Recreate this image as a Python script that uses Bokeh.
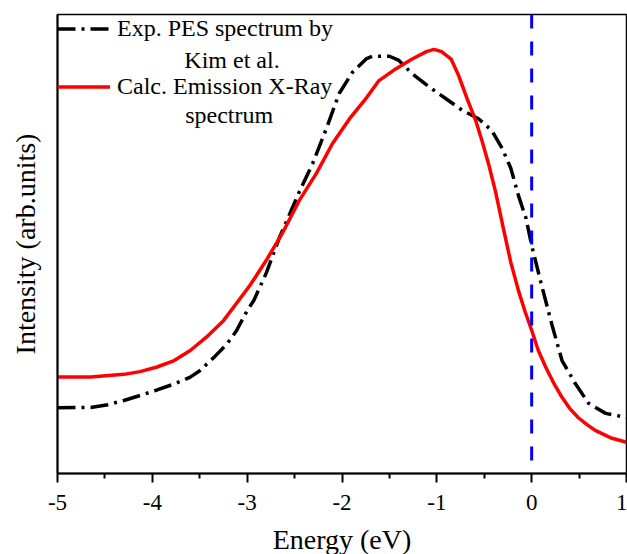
from bokeh.plotting import figure
from bokeh.models import Span, Legend, LegendItem, Label, FixedTicker, Range1d
from bokeh.embed import file_html
from bokeh.resources import INLINE

# Experimental PES spectrum (Kim et al.)
exp_energy = [-5.0, -4.65, -4.47, -4.30, -4.13, -3.95, -3.77, -3.60, -3.50, -3.35, -3.21,
              -3.11, -3.00, -2.93, -2.80, -2.66, -2.55, -2.45, -2.31, -2.16, -2.03, -1.89,
              -1.74, -1.68, -1.50, -1.40, -1.26, -1.08, -0.90, -0.73, -0.56, -0.42, -0.31,
              -0.22, -0.14, -0.06, 0.0, 0.10, 0.21, 0.32, 0.46, 0.60, 0.78, 1.0]
exp_intensity = [0.143, 0.144, 0.150, 0.159, 0.170, 0.182, 0.195, 0.210, 0.224, 0.253, 0.283,
                 0.312, 0.355, 0.377, 0.436, 0.514, 0.566, 0.614, 0.675, 0.754, 0.828, 0.874,
                 0.904, 0.909, 0.909, 0.900, 0.871, 0.842, 0.816, 0.791, 0.773, 0.747, 0.708,
                 0.665, 0.606, 0.556, 0.497, 0.414, 0.327, 0.246, 0.196, 0.153, 0.131, 0.122]

# Calculated emission X-ray spectrum
calc_energy = [-5.0, -4.65, -4.30, -4.13, -3.95, -3.77, -3.60, -3.43, -3.25, -3.09, -2.97,
               -2.80, -2.63, -2.45, -2.27, -2.10, -1.92, -1.74, -1.61, -1.43, -1.26, -1.11,
               -1.03, -0.95, -0.85, -0.77, -0.68, -0.59, -0.52, -0.45, -0.38, -0.29, -0.22,
               -0.14, -0.07, 0.0, 0.07, 0.15, 0.24, 0.32, 0.40, 0.49, 0.58, 0.67, 0.83, 1.0]
calc_intensity = [0.210, 0.210, 0.216, 0.222, 0.232, 0.246, 0.268, 0.297, 0.333, 0.377, 0.410,
                  0.464, 0.523, 0.595, 0.654, 0.719, 0.773, 0.819, 0.856, 0.882, 0.903, 0.919,
                  0.924, 0.919, 0.903, 0.867, 0.816, 0.769, 0.722, 0.671, 0.613, 0.526, 0.460,
                  0.399, 0.353, 0.312, 0.268, 0.231, 0.194, 0.166, 0.142, 0.122, 0.107, 0.094,
                  0.078, 0.068]

x_ticks = [-5, -4, -3, -2, -1, 0, 1]
x_tick_labels = ["-5", "-4", "-3", "-2", "-1", "0", "1"]
fermi_level = 0

FONT = "Liberation Serif"

p = figure(frame_width=569, frame_height=459, output_backend="svg", toolbar_location=None,
           x_range=Range1d(-5, 1), y_range=Range1d(0, 1))
p.min_border_left = 57
p.min_border_top = 14
p.min_border_right = 1
p.min_border_bottom = 81
p.background_fill_color = "white"
p.border_fill_color = "white"
p.outline_line_color = "black"
p.outline_line_width = 1.5
p.xgrid.visible = False
p.ygrid.visible = False

exp_r = p.line(exp_energy, exp_intensity, line_color="black", line_width=3.5, line_dash="18 6 3 6")
calc_r = p.line(calc_energy, calc_intensity, line_color="red", line_width=3.5, line_join="round")

p.add_layout(Span(location=fermi_level, dimension="height", line_color="#0000ff",
                  line_width=3, line_dash="14 13"))

xa = p.xaxis[0]
xa.ticker = FixedTicker(ticks=x_ticks, minor_ticks=[v + 0.5 for v in x_ticks[:-1]])
xa.major_label_overrides = {t: l for t, l in zip(x_ticks, x_tick_labels)}
xa.axis_label = "Energy (eV)"
xa.axis_label_text_font = FONT
xa.axis_label_text_font_style = "normal"
xa.axis_label_text_font_size = "28px"
xa.axis_label_text_color = "black"
xa.axis_label_standoff = 11
xa.major_label_text_font = FONT
xa.major_label_text_font_size = "23px"
xa.major_label_text_color = "black"
xa.major_label_standoff = 12
xa.major_tick_out = 9
xa.major_tick_in = 0
xa.minor_tick_out = 5
xa.minor_tick_in = 0
xa.axis_line_width = 2
xa.axis_line_color = "black"
xa.major_tick_line_width = 2
xa.minor_tick_line_width = 2

ya = p.yaxis[0]
ya.ticker = FixedTicker(ticks=[])
ya.major_label_text_font_size = "0px"
ya.major_tick_out = 0
ya.minor_tick_out = 0
ya.axis_label = "Intensity (arb.units)"
ya.axis_label_text_font = FONT
ya.axis_label_text_font_style = "normal"
ya.axis_label_text_font_size = "28px"
ya.axis_label_text_color = "black"
ya.axis_label_standoff = 17
ya.axis_line_width = 2
ya.axis_line_color = "black"

legend = Legend(items=[LegendItem(label="Exp. PES spectrum by", renderers=[exp_r]),
                       LegendItem(label="Calc. Emission X-Ray", renderers=[calc_r])],
                location="top_left")
legend.margin = 0
legend.padding = 2
legend.spacing = 29
legend.glyph_width = 53
legend.glyph_height = 29
legend.label_height = 29
legend.label_standoff = 7
legend.label_text_font = FONT
legend.label_text_font_size = "24px"
legend.label_text_color = "black"
legend.border_line_color = None
legend.background_fill_alpha = 0
p.add_layout(legend)

p.add_layout(Label(x=-3.16, y=0.900, text="Kim et al.", text_align="center",
                   text_baseline="middle", text_font=FONT, text_font_size="24px",
                   text_color="black"))
p.add_layout(Label(x=-3.19, y=0.782, text="spectrum", text_align="center",
                   text_baseline="middle", text_font=FONT, text_font_size="24px",
                   text_color="black"))

open("out.html", "w").write(file_html(p, INLINE))
